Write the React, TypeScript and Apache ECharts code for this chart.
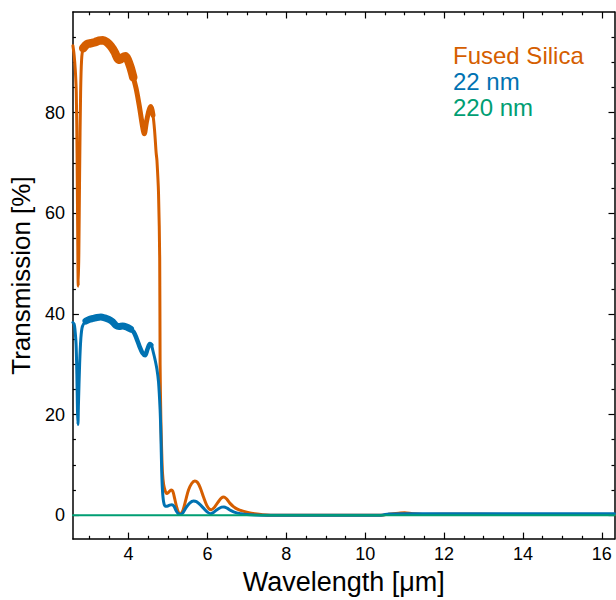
import React, { useEffect, useRef } from "react";
import * as echarts from "echarts";

// Wavelength [µm] and transmission [%]
const fsWl = [2.59, 2.62, 2.65, 2.675, 2.695, 2.71, 2.725, 2.74, 2.76, 2.785, 2.81, 2.85, 2.95, 3.05, 3.15, 3.25, 3.35, 3.45, 3.55, 3.65, 3.72, 3.78, 3.85, 3.92, 3.98, 4.05, 4.12, 4.2, 4.28, 4.35, 4.4, 4.45, 4.52, 4.57, 4.62, 4.66, 4.7, 4.72, 4.76, 4.79, 4.8, 4.82, 4.84, 4.86, 4.89, 4.93, 4.97, 5.02, 5.08, 5.12, 5.17, 5.22, 5.27, 5.32, 5.38, 5.45, 5.52, 5.6, 5.68, 5.75, 5.82, 5.9, 5.98, 6.05, 6.1, 6.18, 6.27, 6.35, 6.42, 6.5, 6.58, 6.66, 6.76, 6.9, 7.05, 7.2, 7.4, 7.6, 8.5, 9.5, 10.4, 10.6, 10.85, 11.0, 11.2, 11.5, 12.4, 13.5, 15, 16.32];
const fsT = [93.3, 91.5, 88.5, 84, 72, 57, 45.5, 52, 68, 84, 90.5, 92.8, 93.6, 93.8, 94, 94.3, 94.4, 94, 93.2, 92, 90.8, 90.5, 91, 91.2, 90.5, 89, 87, 84.5, 81, 77.5, 75.8, 78, 80.5, 81.2, 79.5, 76.5, 72, 70.5, 64, 51, 30, 19, 12.8, 8.5, 6.1, 4.8, 4.3, 4.6, 5.0, 4.8, 3.3, 1.6, 0.5, 0.3, 1.0, 3.0, 5.0, 6.3, 6.8, 6.5, 5.4, 3.6, 2.0, 1.2, 1.1, 1.6, 2.6, 3.4, 3.6, 3.1, 2.3, 1.7, 1.2, 0.8, 0.5, 0.3, 0.1, 0, 0, 0, 0, 0.2, 0.4, 0.5, 0.3, 0.15, 0.2, 0.15, 0.15, 0.15];

const nm22Wl = [2.59, 2.62, 2.64, 2.67, 2.69, 2.705, 2.717, 2.73, 2.76, 2.79, 2.83, 2.92, 3.0, 3.1, 3.2, 3.3, 3.4, 3.5, 3.6, 3.68, 3.76, 3.85, 3.95, 4.05, 4.13, 4.2, 4.28, 4.35, 4.42, 4.48, 4.54, 4.58, 4.63, 4.67, 4.72, 4.76, 4.8, 4.82, 4.84, 4.86, 4.89, 4.93, 4.98, 5.04, 5.1, 5.15, 5.2, 5.26, 5.31, 5.38, 5.45, 5.55, 5.65, 5.72, 5.8, 5.9, 6.0, 6.08, 6.16, 6.26, 6.36, 6.42, 6.5, 6.6, 6.72, 6.85, 7.0, 7.2, 7.5, 8.5, 9.5, 10.4, 10.6, 11.0, 12.0, 13.5, 15, 16.32];
const nm22T = [38.3, 38.0, 37, 34, 28, 21, 18, 22, 30, 35, 37.5, 38.6, 38.9, 39.1, 39.3, 39.4, 39.2, 38.9, 38.4, 37.7, 37.5, 37.6, 37.4, 37.0, 36.4, 35.2, 33.5, 32.3, 31.8, 33.0, 34.0, 33.8, 32.3, 31.0, 29, 26.5, 21, 16, 9, 5, 2.6, 1.8, 1.8, 2.0, 2.1, 1.8, 1.0, 0.3, 0.15, 0.5, 1.4, 2.4, 2.8, 2.7, 2.2, 1.4, 0.6, 0.3, 0.6, 1.2, 1.6, 1.65, 1.4, 0.9, 0.5, 0.3, 0.15, 0.05, 0, 0, 0, 0, 0.25, 0.3, 0.3, 0.3, 0.3, 0.3];

const nm220Wl = [2.59, 4, 6, 8, 10, 12, 14, 16.32];
const nm220T = [0, 0, 0, 0, 0, 0, 0, 0];

// noisy regions (drawn thicker): [from, to] wavelength ranges
const wideNoise = [2.84, 4.12];
const narrowNoise = [4.0, 4.62];

const xMajor = [4, 6, 8, 10, 12, 14, 16];
const xMinor = [3, 3.5, 4.5, 5, 5.5, 6.5, 7, 7.5, 8.5, 9, 9.5, 10.5, 11, 11.5, 12.5, 13, 13.5, 14.5, 15, 15.5, 16];
const xMinorClean = xMinor.filter((v) => !xMajor.includes(v));
const yMajor = [0, 20, 40, 60, 80];
const yMinor = [-5, 5, 10, 15, 25, 30, 35, 45, 50, 55, 65, 70, 75, 85, 90, 95];

const names = ["Fused Silica", "22 nm", "220 nm"];
const colors = ["#D55E00", "#0072B2", "#009E73"];

const X_MIN = 2.59;
const X_MAX = 16.32;
const Y_MIN = -4.75;
const Y_MAX = 100;

const FONT = "Liberation Sans, Arial, sans-serif";

const zip = (xs: number[], ys: number[]) => xs.map((x, i) => [x, ys[i]]);
const part = (xs: number[], ys: number[], r: number[]) =>
  zip(xs, ys).filter((p) => p[0] >= r[0] && p[0] <= r[1]);

function makeX(pos: "bottom" | "top", values: number[], len: number, showLabel: boolean, showLine: boolean, name?: string) {
  return {
    type: "value",
    position: pos,
    min: X_MIN,
    max: X_MAX,
    name: name,
    nameLocation: "middle",
    nameGap: 28,
    nameTextStyle: { fontSize: 27, color: "#000", fontFamily: FONT },
    axisLine: { show: showLine, onZero: false, lineStyle: { color: "#000", width: 1.5 } },
    axisTick: { show: true, inside: true, length: len, customValues: values, lineStyle: { color: "#000", width: 1.2 } },
    axisLabel: { show: showLabel, customValues: values, margin: 6, fontSize: 18, color: "#000", fontFamily: FONT },
    splitLine: { show: false },
  };
}

function makeY(pos: "left" | "right", values: number[], len: number, showLabel: boolean, showLine: boolean, name?: string) {
  return {
    type: "value",
    position: pos,
    min: Y_MIN,
    max: Y_MAX,
    name: name,
    nameLocation: "middle",
    nameGap: 36,
    nameTextStyle: { fontSize: 26, color: "#000", fontFamily: FONT },
    axisLine: { show: showLine, onZero: false, lineStyle: { color: "#000", width: 1.5 } },
    axisTick: { show: true, inside: true, length: len, customValues: values, lineStyle: { color: "#000", width: 1.2 } },
    axisLabel: { show: showLabel, customValues: values, margin: 8, fontSize: 18, color: "#000", fontFamily: FONT },
    splitLine: { show: false },
  };
}

const lineSeries = (name: string, data: number[][], color: string, width: number, z: number, smooth = 0.3) => ({
  name, type: "line", xAxisIndex: 0, yAxisIndex: 0, showSymbol: false, smooth,
  data, lineStyle: { color, width, cap: "round", join: "round" }, itemStyle: { color }, z,
});

export default function App() {
  const ref = useRef<HTMLDivElement>(null);
  useEffect(() => {
    if (!ref.current) return;
    const chart = echarts.init(ref.current, undefined, { renderer: "svg" });
    chart.setOption({
      animation: false,
      backgroundColor: "#fff",
      grid: { left: 72, right: 1.5, top: 12, bottom: 58, containLabel: false },
      legend: {
        orient: "vertical",
        left: 448,
        top: 43,
        padding: 0,
        itemGap: 1,
        itemWidth: 0,
        itemHeight: 0,
        selectedMode: false,
        textStyle: { fontSize: 24, fontFamily: FONT, lineHeight: 25 },
        data: names.map((n, i) => ({ name: n, icon: "none", textStyle: { color: colors[i] } })),
      },
      xAxis: [
        makeX("bottom", xMajor, 6.5, true, true, "Wavelength [μm]"),
        makeX("bottom", xMinorClean, 3.3, false, false),
        makeX("top", xMajor, 6.5, false, true),
        makeX("top", xMinorClean, 3.3, false, false),
      ],
      yAxis: [
        makeY("left", yMajor, 6, true, true, "Transmission [%]"),
        makeY("left", yMinor, 3, false, false),
        makeY("right", yMajor, 6, false, true),
        makeY("right", yMinor, 3, false, false),
      ],
      series: [
        lineSeries(names[0], zip(fsWl, fsT), colors[0], 3, 2),
        lineSeries("fs-noise-wide", part(fsWl, fsT, wideNoise), colors[0], 8.5, 2),
        lineSeries("fs-noise-narrow", part(fsWl, fsT, narrowNoise), colors[0], 5, 2),
        lineSeries(names[1], zip(nm22Wl, nm22T), colors[1], 3, 3),
        lineSeries("22-noise-wide", part(nm22Wl, nm22T, wideNoise), colors[1], 7, 3),
        lineSeries("22-noise-narrow", part(nm22Wl, nm22T, narrowNoise), colors[1], 4.5, 3),
        lineSeries(names[2], zip(nm220Wl, nm220T), colors[2], 2, 4, 0),
      ],
    });
    return () => chart.dispose();
  }, []);
  return <div ref={ref} style={{ width: 616, height: 600, position: "absolute", left: 0, top: 0 }} />;
}
